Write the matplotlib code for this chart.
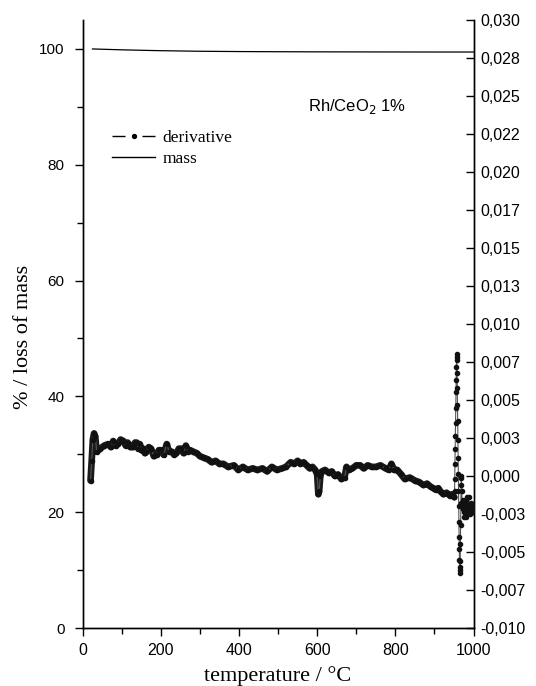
import matplotlib
matplotlib.use("Agg")
import matplotlib.pyplot as plt
from matplotlib.lines import Line2D
from matplotlib.ticker import MultipleLocator, FixedLocator

# ---- data ----
mass_T = [25, 60, 100, 150, 200, 300, 400, 500, 600, 700, 800, 900, 1000]
mass_val = [100.0, 99.93, 99.85, 99.77, 99.7, 99.6, 99.55, 99.52, 99.5, 99.49, 99.48, 99.47, 99.47]

deriv_T = [20, 23, 26, 29, 32, 36, 45, 55, 65, 72, 78, 84, 90, 97, 104, 110, 115, 122, 129, 134,
           138, 142, 146, 150, 155, 159, 163, 169, 175, 182, 189, 195, 200, 207, 215, 221,
           228, 234, 240, 246, 252, 258, 264, 270, 275, 283, 292, 300, 310, 320, 330, 340,
           350, 360, 372, 387, 398, 410, 422, 435, 447, 460, 472, 484, 497, 510, 520, 532,
           541, 550, 557, 565, 573, 581, 588, 595, 600, 603, 605, 608, 612, 620, 630, 637,
           645, 653, 662, 670, 675, 682, 690, 700, 710, 719, 729, 740, 750, 762, 775, 783,
           790, 797, 805, 815, 824, 837, 850, 861, 872, 881, 890, 897, 903, 910, 915, 923,
           931, 940, 946, 951,
           951.5, 952, 952.5, 953, 953.5, 954, 954.5, 955, 955.5, 956, 956.5, 957, 957.5,
           958, 958.5, 959, 959.5, 960, 960.5, 961, 961.5, 962, 962.5, 963, 963.5, 964,
           964.5, 965, 965.5, 966, 966.5, 967, 967.5, 968, 968.5, 969, 970, 971, 972, 973,
           974, 975, 976, 977, 978, 979, 980, 981, 982, 983, 984, 985, 986, 988, 990, 991,
           993, 994, 996, 997, 999, 1000]
deriv_val = [-0.0003, 0.0010, 0.0024, 0.0028, 0.0026, 0.0016, 0.0018, 0.0020, 0.0021, 0.0019,
             0.0023, 0.0020, 0.0021, 0.0024, 0.0023, 0.0020, 0.0022, 0.0019, 0.0019, 0.0022,
             0.0022, 0.0018, 0.0021, 0.0017, 0.0018, 0.0015, 0.0016, 0.0019, 0.0018, 0.0013,
             0.0014, 0.0017, 0.0017, 0.0014, 0.0021, 0.0016, 0.0016, 0.0014, 0.0015, 0.0018,
             0.0018, 0.0015, 0.0020, 0.0016, 0.0017, 0.0016, 0.0015, 0.0013, 0.0012, 0.0011,
             0.0009, 0.0010, 0.0008, 0.0008, 0.0006, 0.0007, 0.0004, 0.0006, 0.0004, 0.0005,
             0.0004, 0.0005, 0.0003, 0.0006, 0.0004, 0.0005, 0.0006, 0.0009, 0.0008, 0.0010,
             0.0008, 0.0009, 0.0007, 0.0005, 0.0006, 0.0004, 0.0001, -0.0012, -0.0010, 0.0000,
             0.0003, 0.0004, 0.0002, 0.0003, 0.0000, 0.0001, -0.0002, -0.0001, 0.0006, 0.0004,
             0.0005, 0.0007, 0.0007, 0.0005, 0.0007, 0.0006, 0.0006, 0.0007, 0.0005, 0.0004,
             0.0008, 0.0004, 0.0004, 0.0001, -0.0002, -0.0001, -0.0003, -0.0004, -0.0006,
             -0.0005, -0.0007, -0.0008, -0.0009, -0.0008, -0.0010, -0.0012, -0.0011, -0.0013,
             -0.0012, -0.0014,
             -0.0010, -0.0002, 0.0008, 0.0018, 0.0026, 0.0035, 0.0045, 0.0055, 0.0063,
             0.0072, 0.0078, 0.0080, 0.0076, 0.0068, 0.0058, 0.0047, 0.0036, 0.0024,
             0.0012, 0.0001, -0.0010, -0.0020, -0.0030, -0.0040, -0.0048, -0.0055,
             -0.0060, -0.0064, -0.0062, -0.0056, -0.0045, -0.0032, -0.0018, -0.0006,
             0.0000, -0.0001, -0.0010, -0.0018, -0.0022, -0.0016, -0.0020, -0.0024,
             -0.0027, -0.0022, -0.0018, -0.0020, -0.0027, -0.0024, -0.0016, -0.0014,
             -0.0020, -0.0024, -0.0019, -0.0014, -0.0022, -0.0025, -0.0018, -0.0024,
             -0.0021, -0.0024, -0.0019, -0.0020]

right_ticks = [-0.010, -0.0075, -0.005, -0.0025, 0.0, 0.0025, 0.005, 0.0075, 0.010,
               0.0125, 0.015, 0.0175, 0.020, 0.0225, 0.025, 0.0275, 0.030]
right_labels = ["-0,010", "-0,007", "-0,005", "-0,003", "0,000", "0,003", "0,005", "0,007",
                "0,010", "0,013", "0,015", "0,017", "0,020", "0,022", "0,025", "0,028", "0,030"]

sans = "Liberation Sans"
serif = "Liberation Serif"

fig = plt.figure(figsize=(5.36, 6.86), dpi=100)
ax = fig.add_axes([82.7 / 536, 1 - 628 / 686, (473.5 - 82.7) / 536, (628 - 20) / 686])
ax2 = ax.twinx()

ax.plot(mass_T, mass_val, color="black", lw=0.9, zorder=3)

# derivative: dense thick trace + dotted markers
split = deriv_T.index(951) + 1
ax2.plot(deriv_T[:split], deriv_val[:split], color="#1a1a1a", lw=4.8,
         solid_capstyle="round", solid_joinstyle="round", zorder=2)
ax2.plot(deriv_T, deriv_val, color="#555555", lw=0.8, marker="o", ms=3.0,
         mfc="#111111", mec="#111111", zorder=3)

ax.set_xlim(0, 1000)
ax.set_ylim(0, 105)
ax2.set_ylim(-0.010, 0.030)

ax.xaxis.set_major_locator(MultipleLocator(200))
ax.xaxis.set_minor_locator(MultipleLocator(100))
ax.yaxis.set_major_locator(FixedLocator([0, 20, 40, 60, 80, 100]))
ax.yaxis.set_minor_locator(FixedLocator([10, 30, 50, 70, 90]))
ax2.yaxis.set_major_locator(FixedLocator(right_ticks))
ax2.set_yticklabels(right_labels)

for a in (ax, ax2):
    a.spines["top"].set_visible(False)
    for s in a.spines.values():
        s.set_linewidth(1.0)

ax.tick_params(axis="both", which="major", direction="out", length=6, width=1)
ax.tick_params(axis="x", which="major", pad=5, labelsize=11.5)
ax.tick_params(axis="y", which="major", pad=7, labelsize=11)
ax.tick_params(axis="both", which="minor", direction="out", length=4, width=1)
ax2.tick_params(axis="y", which="major", direction="in", length=6, width=1,
                labelsize=11.5, pad=5)
for lab in ax.get_xticklabels() + ax.get_yticklabels() + ax2.get_yticklabels():
    lab.set_fontfamily(sans)

ax.set_xlabel("temperature / °C", fontfamily=serif, fontsize=16)
ax.xaxis.set_label_coords(0.5, -0.063)
ax.set_ylabel("% / loss of mass", fontfamily=serif, fontsize=16)
ax.yaxis.set_label_coords(-0.128, 0.479)

ax.text(703, 90.0, "Rh/CeO$_2$ 1%", fontfamily=sans, fontsize=12, ha="center", va="center")

h_der = Line2D([], [], color="black", lw=1.0, linestyle=(0, (9.4, 12.2)), marker="o", ms=2.8)
h_mass = Line2D([], [], color="black", lw=1.0)
leg = ax.legend([h_der, h_mass], ["derivative", "mass"], loc="upper left",
                bbox_to_anchor=(0.035, 0.845), frameon=False, numpoints=1,
                handlelength=2.5, handletextpad=0.4, labelspacing=0.28,
                prop={"family": serif, "size": 12.5})

fig.savefig("out.png", dpi=100)
